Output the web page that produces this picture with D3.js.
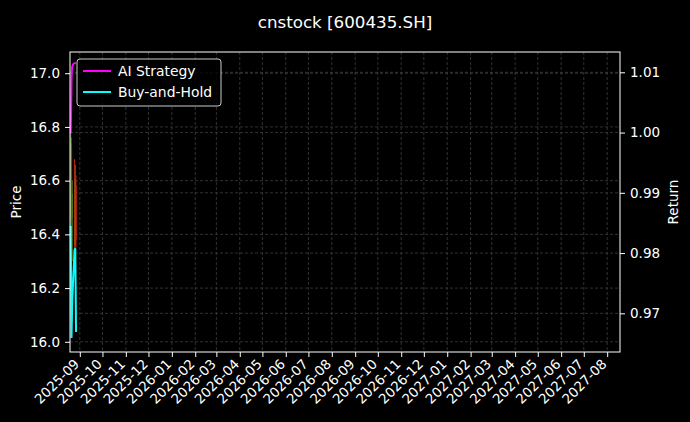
<!DOCTYPE html>
<html>
<head>
<meta charset="utf-8">
<script src="https://cdn.jsdelivr.net/npm/d3@7"></script>
<style>
  body { margin: 0; background: #000; }
  text { font-family: "DejaVu Sans", sans-serif; fill: #fff; }
</style>
</head>
<body>
<div id="chart"></div>
<script>
/* Data */
var dates = ["2025-08-20", "2025-08-21", "2025-08-22", "2025-08-25", "2025-08-26", "2025-08-27"];
var open = [16.45, 16.72, 16.46, 16.55, 16.36, 16.58];
var high = [16.78, 16.76, 16.60, 16.68, 16.66, 16.62];
var low = [16.40, 16.42, 16.30, 16.33, 16.34, 16.35];
var close = [16.74, 16.46, 16.55, 16.36, 16.60, 16.38];
var aiStrategy = [0.9999, 1.0087, 1.0110, 1.0115, 1.0115, 1.0115];
var buyHold = [0.9845, 0.9659, 0.9722, 0.9805, 0.9808, 0.9669];
var priceTicks = [16.0, 16.2, 16.4, 16.6, 16.8, 17.0];
var returnTicks = [0.97, 0.98, 0.99, 1.00, 1.01];

var width = 690;
var height = 422;
var margin = { top: 52, right: 70, bottom: 70, left: 70 };
var innerW = width - margin.left - margin.right;
var innerH = height - margin.top - margin.bottom;
var fontSize = "13.5px";

var parseDate = d3.utcParse("%Y-%m-%d");
var rows = dates.map(function (d, i) {
  return { date: parseDate(d), o: open[i], h: high[i], l: low[i], c: close[i], ai: aiStrategy[i], bh: buyHold[i] };
});

/* Scales */
var xScale = d3.scaleUtc()
  .domain([parseDate("2025-08-19"), parseDate("2027-08-18")])
  .range([0, innerW]);
var yPrice = d3.scaleLinear().domain([15.962, 17.079]).range([innerH, 0]);
var yRet = d3.scaleLinear().domain([0.96358, 1.01337]).range([innerH, 0]);

var svg = d3.select("#chart").append("svg")
  .attr("width", width)
  .attr("height", height)
  .style("background", "#000");

svg.append("text")
  .attr("x", width / 2)
  .attr("y", 28)
  .attr("text-anchor", "middle")
  .style("font-size", "16.7px")
  .text("cnstock [600435.SH]");

var g = svg.append("g")
  .attr("transform", `translate(${margin.left}, ${margin.top})`);

/* Grid */
var monthTicks = d3.utcMonth.range(parseDate("2025-09-01"), parseDate("2027-08-02"));
var grid = g.append("g").attr("class", "grid")
  .style("stroke", "#3d3d3d")
  .style("stroke-width", 0.8)
  .style("stroke-dasharray", "3,2");
grid.selectAll(".gx").data(monthTicks).enter().append("line")
  .attr("x1", d => xScale(d)).attr("x2", d => xScale(d))
  .attr("y1", 0).attr("y2", innerH);
grid.selectAll(".gy").data(priceTicks).enter().append("line")
  .attr("x1", 0).attr("x2", innerW)
  .attr("y1", d => yPrice(d)).attr("y2", d => yPrice(d));
grid.selectAll(".gr").data(returnTicks).enter().append("line")
  .attr("x1", 0).attr("x2", innerW)
  .attr("y1", d => yRet(d)).attr("y2", d => yRet(d));

/* Candles */
var candles = g.append("g").attr("class", "candles");
candles.selectAll("line.wick").data(rows).enter().append("line")
  .attr("x1", d => xScale(d.date)).attr("x2", d => xScale(d.date))
  .attr("y1", d => yPrice(d.h)).attr("y2", d => yPrice(d.l))
  .style("stroke", d => d.c >= d.o ? "#4a7a1e" : "#b8200c")
  .style("stroke-width", 1);
candles.selectAll("rect").data(rows).enter().append("rect")
  .attr("x", d => xScale(d.date) - 0.6)
  .attr("width", 1.2)
  .attr("y", d => yPrice(Math.max(d.o, d.c)))
  .attr("height", d => Math.abs(yPrice(d.o) - yPrice(d.c)))
  .style("fill", d => d.c >= d.o ? "#4a7a1e" : "#c8240e");

/* Return lines */
var lineAi = d3.line().x(d => xScale(d.date)).y(d => yRet(d.ai)).curve(d3.curveMonotoneX);
var lineBh = d3.line().x(d => xScale(d.date)).y(d => yRet(d.bh));
g.append("path").datum(rows).attr("d", lineBh)
  .style("fill", "none").style("stroke", "#00ffff").style("stroke-width", 2);
g.append("path").datum(rows).attr("d", lineAi)
  .style("fill", "none").style("stroke", "#ff00ff").style("stroke-width", 2);

/* Axes */
var xAxis = d3.axisBottom(xScale).tickValues(monthTicks).tickFormat(d3.utcFormat("%Y-%m")).tickSize(5).tickSizeOuter(0);
var yAxisL = d3.axisLeft(yPrice).tickValues(priceTicks).tickFormat(d3.format(".1f")).tickSize(5).tickSizeOuter(0);
var yAxisR = d3.axisRight(yRet).tickValues(returnTicks).tickFormat(d3.format(".2f")).tickSize(5).tickSizeOuter(0);

var gx = g.append("g")
  .attr("transform", `translate(0, ${innerH})`)
  .call(xAxis);
gx.selectAll("text")
  .attr("text-anchor", "end")
  .attr("x", 0)
  .attr("y", 0)
  .attr("dy", "0.35em")
  .attr("transform", "translate(-3.5, 9.5) rotate(-45)");

var gl = g.append("g").call(yAxisL);
var gr = g.append("g").attr("transform", `translate(${innerW}, 0)`).call(yAxisR);

g.selectAll(".domain").remove();
g.selectAll(".tick line").style("stroke", "#fff");
g.selectAll(".tick text").style("font-size", fontSize).style("fill", "#fff");
gl.selectAll(".tick text").attr("x", -10);
gr.selectAll(".tick text").attr("x", 10);

/* Spines */
g.append("rect")
  .attr("x", 0).attr("y", 0).attr("width", innerW).attr("height", innerH)
  .style("fill", "none").style("stroke", "#fff").style("stroke-width", 1);

/* Axis labels */
svg.append("text")
  .attr("transform", `translate(21, ${margin.top + innerH / 2}) rotate(-90)`)
  .attr("text-anchor", "middle")
  .style("font-size", fontSize)
  .text("Price");
svg.append("text")
  .attr("transform", `translate(678, ${margin.top + innerH / 2}) rotate(-90)`)
  .attr("text-anchor", "middle")
  .style("font-size", fontSize)
  .text("Return");

/* Legend */
var legend = g.append("g").attr("transform", "translate(7, 7)");
legend.append("rect")
  .attr("width", 144).attr("height", 47).attr("rx", 3)
  .style("fill", "#000").style("fill-opacity", 0.8)
  .style("stroke", "#cccccc").style("stroke-width", 1);
var items = [{ name: "AI Strategy", color: "#ff00ff" }, { name: "Buy-and-Hold", color: "#00ffff" }];
var li = legend.selectAll(".item").data(items).enter().append("g")
  .attr("transform", (d, i) => `translate(0, ${12 + i * 21})`);
li.append("line")
  .attr("x1", 6).attr("x2", 34).attr("y1", 0).attr("y2", 0)
  .style("stroke", d => d.color).style("stroke-width", 2);
li.append("text")
  .attr("x", 41).attr("y", 5)
  .style("font-size", "13.9px")
  .text(d => d.name);
</script>
</body>
</html>
